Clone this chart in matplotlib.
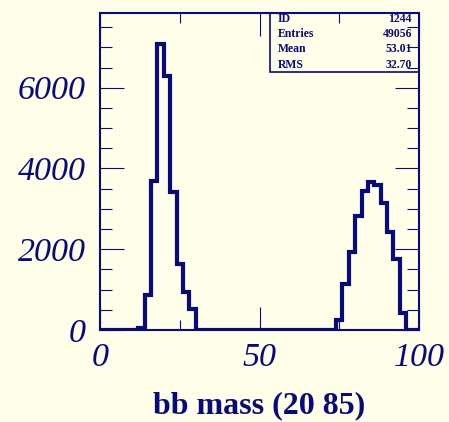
import numpy as np
import matplotlib
matplotlib.use("Agg")
import matplotlib.pyplot as plt
from matplotlib.patches import Rectangle
from matplotlib.ticker import MultipleLocator

# bin edges (2 GeV bins from 0 to 100) and counts
edges = np.arange(0, 102, 2)
counts = np.zeros(50)
counts[6:15] = [60, 870, 3680, 7080, 6300, 3410, 1630, 935, 513]
counts[37:48] = [248, 1133, 1943, 2811, 3431, 3654, 3596, 3141, 2439, 1753, 430]

stat_names = ["ID", "Entries", "Mean", "RMS"]
stat_values = ["1244", "49056", "53.01", "32.70"]
x_label = "bb mass (20 85)"

navy = "#0a0a80"
bg = "#fffee8"

plt.rcParams["font.family"] = ["Liberation Serif", "DejaVu Serif"]
plt.rcParams["font.style"] = "italic"

fig = plt.figure(figsize=(4.49, 4.22), dpi=100, facecolor=bg)
ax = fig.add_axes([100/449, 1 - 330/422, 319/449, 317/422])
ax.set_facecolor(bg)

ax.stairs(counts, edges, color=navy, linewidth=3.0, baseline=0)

ax.set_xlim(0, 100)
ax.set_ylim(0, 7850)
ax.xaxis.set_major_locator(MultipleLocator(50))
ax.xaxis.set_minor_locator(MultipleLocator(25))
ax.yaxis.set_major_locator(MultipleLocator(2000))
ax.yaxis.set_minor_locator(MultipleLocator(500))

for s in ax.spines.values():
    s.set_color(navy)
    s.set_linewidth(1.5)

ax.tick_params(which="both", direction="in", top=True, right=True,
               color=navy, width=0.8, labelcolor=navy, labelsize=24.5)
ax.tick_params(axis="x", which="major", length=16.5, pad=9)
ax.tick_params(axis="x", which="minor", length=7.5)
ax.tick_params(axis="y", which="major", length=17, pad=10)
ax.tick_params(axis="y", which="minor", length=8.5)

ax.set_xlabel(x_label, fontsize=23, fontweight="bold", fontstyle="normal",
              color=navy, labelpad=13)

# statistics box
bx0, by0 = (270 - 100) / 319, (330 - 71.7) / 317
ax.add_patch(Rectangle((bx0, by0), 1 - bx0, 1 - by0, transform=ax.transAxes,
                       fill=False, edgecolor=navy, linewidth=1.2, zorder=5))
row_y = [19, 34, 49, 65]
for name, val, py in zip(stat_names, stat_values, row_y):
    yy = (330 - py) / 317
    ax.text((278 - 100) / 319, yy, name, transform=ax.transAxes, fontsize=8.5,
            fontweight="bold", fontstyle="normal", color=navy, va="center", ha="left")
    ax.text((412 - 100) / 319, yy, val, transform=ax.transAxes, fontsize=8.5,
            fontweight="bold", fontstyle="normal", color=navy, va="center", ha="right")

fig.savefig("out.png", dpi=100, facecolor=bg)
